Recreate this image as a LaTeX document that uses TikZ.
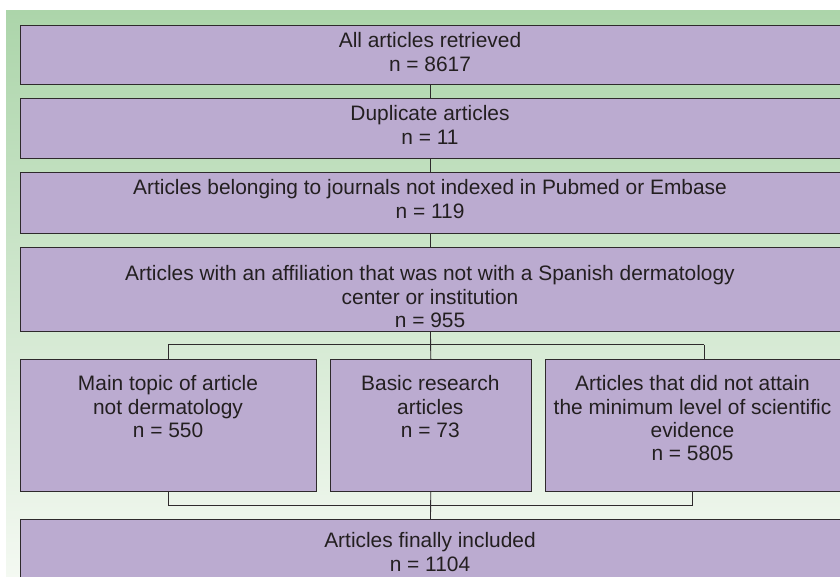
\documentclass[tikz,border=0pt]{standalone}
\usepackage{fontspec}
\setmainfont{Liberation Sans}
\definecolor{boxfill}{HTML}{BBABD0}
\definecolor{bgtop}{HTML}{ACD5AA}
\definecolor{bgbot}{HTML}{F4F9F2}
\definecolor{ink}{HTML}{231F20}
\definecolor{edge}{HTML}{2E2A2C}
\begin{document}
\begin{tikzpicture}[x=1pt,y=-1pt,
  box/.style={draw=edge,line width=0.9pt,fill=boxfill,inner sep=0pt,anchor=north west},
  txt/.style={text=ink,font=\fontsize{20.9}{23.3}\selectfont,align=center,inner sep=0pt,anchor=north},
  conn/.style={draw=edge,line width=0.9pt}]
\useasboundingbox (0,0) rectangle (840,577);
\shade[top color=bgtop,bottom color=bgbot] (6,11) rectangle (840,577);
% boxes
\node[box,minimum width=820pt,minimum height=58.7pt] (b1) at (20,25) {};
\node[box,minimum width=820pt,minimum height=60.3pt] (b2) at (20,98) {};
\node[box,minimum width=820pt,minimum height=60.4pt] (b3) at (20,172.3) {};
\node[box,minimum width=820pt,minimum height=84pt] (b4) at (20,246.7) {};
\node[box,minimum width=295.7pt,minimum height=131.7pt] (c1) at (20,359) {};
\node[box,minimum width=201.3pt,minimum height=131.7pt] (c2) at (329.7,359) {};
\node[box,minimum width=294.7pt,minimum height=131.7pt] (c3) at (545.3,359) {};
\node[box,minimum width=820pt,minimum height=70pt] (b5) at (20,519.3) {};
% texts
\node[txt] (t1) at (430,32.5) {All articles retrieved\\n = 8617};
\node[txt] (t2) at (430,105.5) {Duplicate articles\\n = 11};
\node[txt] (t3) at (430,179.5) {Articles belonging to journals not indexed in Pubmed or Embase\\n = 119};
\node[txt] (t4) at (430,265.5) {Articles with an affiliation that was not with a Spanish dermatology\\center or institution\\n = 955};
\node[txt] (t5) at (168,375.5) {Main topic of article\\not dermatology\\n = 550};
\node[txt] (t6) at (430.3,375.5) {Basic research\\articles\\n = 73};
\node[txt] (t7) at (692.5,375.5) {Articles that did not attain\\the minimum level of scientific\\evidence\\n = 5805};
\node[txt] (t8) at (430,532.5) {Articles finally included\\n = 1104};
% connectors
\coordinate (j1) at (430,344.7);
\coordinate (jl) at (168,344.7);
\coordinate (jr) at (704,344.7);
\coordinate (k1) at (430,505);
\coordinate (kl) at (168,505);
\coordinate (kr) at (692.5,505);
\draw[conn] (b1.south) -- (b2.north);
\draw[conn] (b2.south) -- (b3.north);
\draw[conn] (b3.south) -- (b4.north);
\draw[conn] (b4.south) -- (c2.north);
\draw[conn] (jl) -- (jr);
\draw[conn] (jl) -- (jl |- c1.north);
\draw[conn] (jr) -- (jr |- c3.north);
\draw[conn] (c2.south) -- (b5.north);
\draw[conn] (kl |- c1.south) -- (kl) -- (kr) -- (kr |- c3.south);
\end{tikzpicture}
\end{document}
